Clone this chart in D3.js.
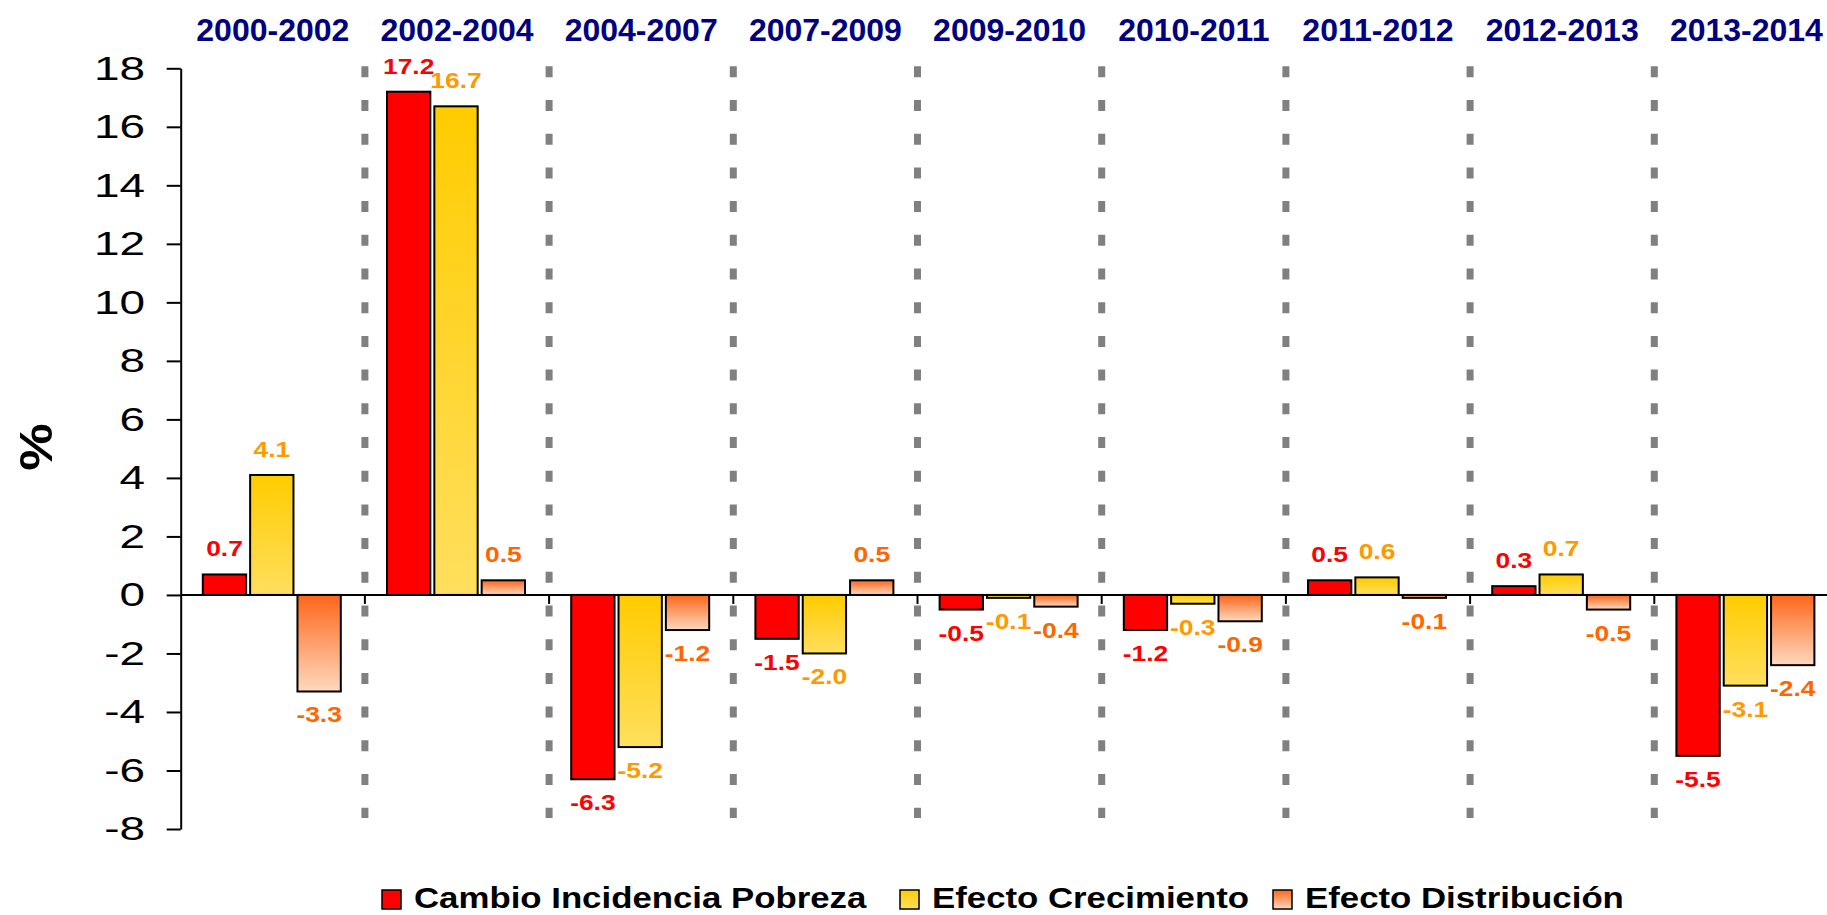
<!DOCTYPE html>
<html>
<head>
<meta charset="utf-8">
<script src="https://cdn.jsdelivr.net/npm/d3@7"></script>
<style>
  html, body { margin: 0; padding: 0; background: #fff; overflow: hidden; }
  svg { display: block; font-family: "Liberation Sans", Arial, sans-serif; }
</style>
</head>
<body>
<svg id="chart" width="1827" height="915"></svg>
<script>
// ---- data ----
const categories = ["2000-2002", "2002-2004", "2004-2007", "2007-2009", "2009-2010", "2010-2011", "2011-2012", "2012-2013", "2013-2014"];
const seriesNames = ["Cambio Incidencia Pobreza", "Efecto Crecimiento", "Efecto Distribución"];
const cambioIncidencia = [0.7, 17.2, -6.3, -1.5, -0.5, -1.2, 0.5, 0.3, -5.5];
const efectoCrecimiento = [4.1, 16.7, -5.2, -2.0, -0.1, -0.3, 0.6, 0.7, -3.1];
const efectoDistribucion = [-3.3, 0.5, -1.2, 0.5, -0.4, -0.9, -0.1, -0.5, -2.4];
const yTickValues = [-8, -6, -4, -2, 0, 2, 4, 6, 8, 10, 12, 14, 16, 18];
const yAxisTitle = "%";

const seriesValues = [cambioIncidencia, efectoCrecimiento, efectoDistribucion];

// ---- styles ----
const fills = ["#FF0000", "url(#gradYellow)", "url(#gradOrange)"];
const labelColors = ["#FF0000", "#FF9900", "#FF6600"];

const svg = d3.select("#chart");
const W = 1827;

const defs = svg.append("defs");
function grad(id, c0, c1) {
  const g = defs.append("linearGradient").attr("id", id)
    .attr("x1", 0).attr("y1", 0).attr("x2", 0).attr("y2", 1);
  g.append("stop").attr("offset", "0%").attr("stop-color", c0);
  g.append("stop").attr("offset", "100%").attr("stop-color", c1);
}
grad("gradYellow", "#FFCC00", "#FFDF5E");
grad("gradOrange", "#FF661A", "#FFD9BE");

// ---- scales ----
const plotLeft = 180.7, bandW = 184.2;
const x0 = d3.scaleBand().domain(categories).range([plotLeft, plotLeft + bandW * categories.length]).padding(0);
const groupW = 142;
const x1 = d3.scaleBand().domain(d3.range(seriesNames.length)).range([0, groupW]).padding(0);
const groupOff = (x0.bandwidth() - groupW) / 2;
const y = d3.scaleLinear().domain([-8, 18]).range([829, 68.3]);

// ---- separators (dashed gray) ----
const sepG = svg.append("g");
categories.slice(1).forEach(c => {
  sepG.append("line")
    .attr("x1", x0(c)).attr("x2", x0(c))
    .attr("y1", y(18) - 2).attr("y2", 818)
    .attr("stroke", "#808080").attr("stroke-width", 7)
    .attr("stroke-dasharray", "11 22.7");
});

// ---- category labels on top ----
svg.append("g").selectAll("text").data(categories).join("text")
  .attr("x", d => x0(d) + x0.bandwidth() / 2)
  .attr("y", 41)
  .attr("text-anchor", "middle")
  .attr("font-size", 32).attr("font-weight", "bold")
  .attr("fill", "#000080")
  .text(d => d);

// ---- bars ----
const barsG = svg.append("g");
seriesValues.forEach((vals, s) => {
  barsG.selectAll("rect.s" + s).data(vals).join("rect")
    .attr("class", "s" + s)
    .attr("x", (d, i) => x0(categories[i]) + groupOff + x1(s) + 1)
    .attr("width", x1.bandwidth() - 4)
    .attr("y", d => Math.min(y(d), y(0)))
    .attr("height", d => Math.abs(y(d) - y(0)))
    .attr("fill", fills[s])
    .attr("stroke", "#000").attr("stroke-width", 2);
});

// ---- y axis ----
const yAxis = d3.axisLeft(y).tickValues(yTickValues).tickSize(14).tickSizeOuter(0).tickPadding(0)
  .tickFormat(d3.format("d"));
const yg = svg.append("g").attr("transform", `translate(${plotLeft},0)`).call(yAxis);
yg.select(".domain").attr("stroke", "#000").attr("stroke-width", 2);
yg.selectAll(".tick line").attr("stroke", "#000").attr("stroke-width", 2);
yg.selectAll(".tick text")
  .attr("x", null).attr("dy", "0.32em")
  .attr("transform", "translate(-35.7,0) scale(1.35,1)")
  .attr("font-size", 34).attr("font-family", "Liberation Sans, Arial, sans-serif")
  .attr("fill", "#000")
  .text(d => d3.format("d")(d).replace("−", "-"));

// ---- zero line and category ticks ----
svg.append("line")
  .attr("x1", plotLeft).attr("x2", W)
  .attr("y1", y(0)).attr("y2", y(0))
  .attr("stroke", "#000").attr("stroke-width", 2);
svg.append("g").selectAll("line").data(categories.slice(1)).join("line")
  .attr("x1", d => x0(d)).attr("x2", d => x0(d))
  .attr("y1", y(0)).attr("y2", y(0) + 9)
  .attr("stroke", "#000").attr("stroke-width", 2);

// ---- data labels ----
const lblG = svg.append("g");
seriesValues.forEach((vals, s) => {
  vals.forEach((v, i) => {
    const cx = x0(categories[i]) + groupOff + x1(s) + x1.bandwidth() / 2 - 1;
    const ly = v >= 0 ? y(v) - 18 : y(v) + 31;
    lblG.append("text")
      .attr("transform", `translate(${cx},${ly}) scale(1.2,1)`)
      .attr("text-anchor", "middle")
      .attr("font-size", 22).attr("font-weight", "bold")
      .attr("fill", labelColors[s])
      .text(d3.format(".1f")(v).replace("−", "-"));
  });
});

// ---- y axis title ----
svg.append("text")
  .attr("transform", "translate(52,447) rotate(-90) scale(1.16,1)")
  .attr("text-anchor", "middle")
  .attr("font-size", 46).attr("font-weight", "bold")
  .attr("fill", "#000")
  .text(yAxisTitle);

// ---- legend ----
const legendX = [382, 900, 1273];
const legG = svg.append("g");
seriesNames.forEach((name, s) => {
  legG.append("rect")
    .attr("x", legendX[s]).attr("y", 890)
    .attr("width", 19).attr("height", 19)
    .attr("fill", fills[s])
    .attr("stroke", "#000").attr("stroke-width", 1.5);
  legG.append("text")
    .attr("transform", `translate(${legendX[s] + 32},908) scale(1.2,1)`)
    .attr("font-size", 29).attr("font-weight", "bold")
    .attr("fill", "#000")
    .text(name);
});
</script>
</body>
</html>
